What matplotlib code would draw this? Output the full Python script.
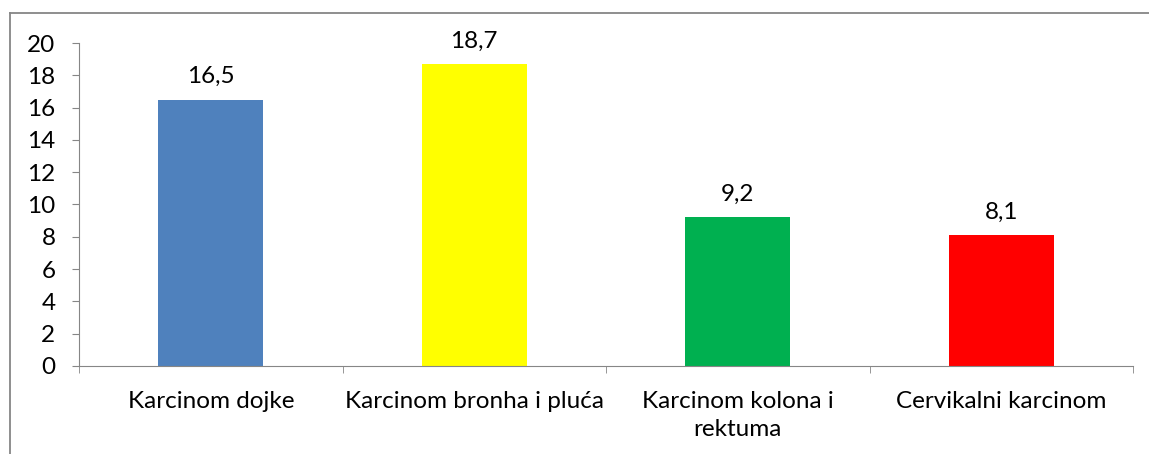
import matplotlib
matplotlib.use('Agg')
import matplotlib.pyplot as plt
from matplotlib.lines import Line2D

# Podaci
kategorije = ['Karcinom dojke', 'Karcinom bronha i pluća',
              'Karcinom kolona i\nrektuma', 'Cervikalni karcinom']
vrijednosti = [16.5, 18.7, 9.2, 8.1]
boje = ['#4F81BD', '#FFFF00', '#00B050', '#FF0000']
y_ticks = [0, 2, 4, 6, 8, 10, 12, 14, 16, 18, 20]

plt.rcParams['font.family'] = ['Lato', 'DejaVu Sans']
siva = '#868686'
fs = 17.5

fig = plt.figure(figsize=(11.49, 4.54), dpi=100)
ax = fig.add_axes([79 / 1149, 1 - 366 / 454, (1133 - 79) / 1149, (366 - 43) / 454])

x = list(range(len(kategorije)))
stupci = ax.bar(x, vrijednosti, width=0.4, color=boje)

for xi, v in zip(x, vrijednosti):
    ax.annotate(f'{v:.1f}'.replace('.', ','), (xi, v), xytext=(0, 9),
                textcoords='offset points', ha='center', va='bottom', fontsize=fs)

ax.set_xlim(-0.5, len(kategorije) - 0.5)
ax.set_ylim(0, 20)
ax.set_yticks(y_ticks)
ax.set_xticks(x)
ax.set_xticklabels(kategorije, fontsize=fs, linespacing=1.4, multialignment='center')
ax.set_xticks([i - 0.5 for i in range(len(kategorije) + 1)], minor=True)
ax.tick_params(axis='x', which='major', length=0, pad=18)
ax.tick_params(axis='x', which='minor', length=5, color=siva, direction='out')
ax.tick_params(axis='y', length=5, color=siva, pad=12, labelsize=fs)
for s in ['top', 'right']:
    ax.spines[s].set_visible(False)
for s in ['left', 'bottom']:
    ax.spines[s].set_color(siva)

# okvir grafikona (djelomicno odsjecen)
fig.add_artist(Line2D([10 / 1149, 10 / 1149], [0, 1 - 13 / 454], color=siva, lw=1.3))
fig.add_artist(Line2D([10 / 1149, 1], [1 - 13 / 454, 1 - 13 / 454], color=siva, lw=1.3))

fig.savefig('out.png', dpi=100)
